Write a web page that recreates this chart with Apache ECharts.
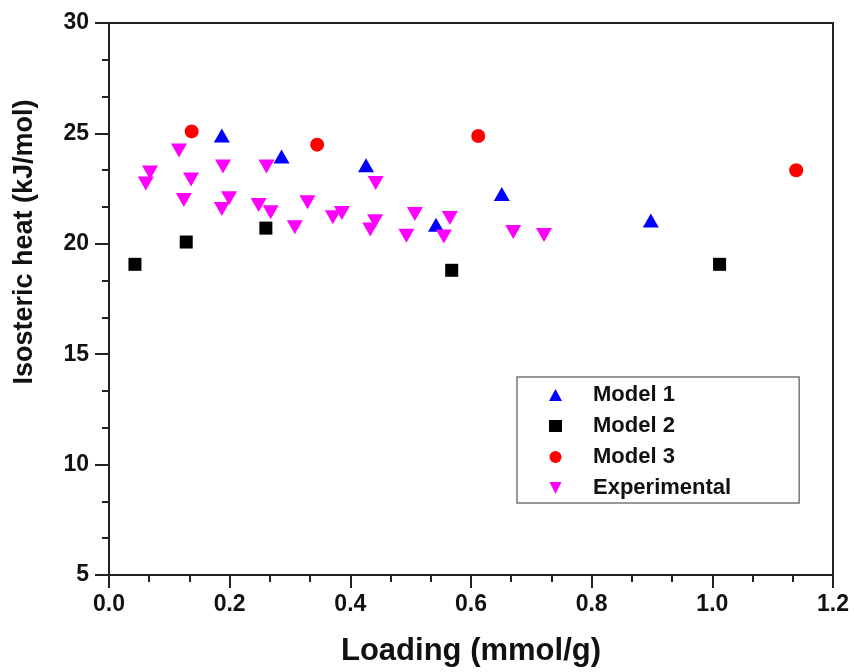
<!DOCTYPE html>
<html>
<head>
<meta charset="utf-8">
<script src="https://cdn.jsdelivr.net/npm/echarts@6/dist/echarts.min.js"></script>
<style>
html,body{margin:0;padding:0;background:#fff;}
#chart{width:854px;height:672px;}
</style>
</head>
<body>
<div id="chart"></div>
<script>
// ---- data ----
const seriesNames = ['Model 1', 'Model 2', 'Model 3', 'Experimental'];
const model1X = [0.187, 0.286, 0.426, 0.542, 0.651, 0.898];
const model1Y = [24.91, 23.95, 23.56, 20.86, 22.25, 21.05];
const model2X = [0.043, 0.128, 0.260, 0.568, 1.012];
const model2Y = [19.07, 20.08, 20.71, 18.80, 19.07];
const model3X = [0.137, 0.345, 0.612, 1.139];
const model3Y = [25.09, 24.49, 24.88, 23.33];
const expX = [0.061, 0.068, 0.116, 0.124, 0.136, 0.187, 0.189, 0.199, 0.248, 0.261, 0.268, 0.308, 0.329, 0.371, 0.386, 0.433, 0.441, 0.442, 0.493, 0.507, 0.555, 0.565, 0.670, 0.721];
const expY = [22.73, 23.23, 24.23, 21.98, 22.91, 21.58, 23.50, 22.06, 21.76, 23.50, 21.43, 20.75, 21.88, 21.20, 21.40, 20.65, 21.02, 22.75, 20.37, 21.35, 20.33, 21.17, 20.53, 20.40];
const xTitle = 'Loading (mmol/g)';
const yTitle = 'Isosteric heat (kJ/mol)';

function pairs(xs, ys) { return xs.map((x, i) => [x, ys[i]]); }

const FONT = "'Liberation Sans', Arial, sans-serif";
const AX = '#222';
const INV_TRI = 'path://M0,0 L10,0 L5,10 Z';

const chart = echarts.init(document.getElementById('chart'), null, {renderer: 'canvas'});
chart.setOption({
  animation: false,
  backgroundColor: '#fff',
  grid: {left: 109, right: 21, top: 23, bottom: 94, show: true, borderColor: AX, borderWidth: 2, backgroundColor: 'transparent'},
  xAxis: {
    type: 'value', min: 0, max: 1.2, interval: 0.2,
    name: xTitle, nameLocation: 'middle', nameGap: 61,
    nameTextStyle: {fontFamily: FONT, fontWeight: 'bold', fontSize: 31, color: '#111'},
    axisLine: {show: true, onZero: false, lineStyle: {color: AX, width: 2}},
    axisTick: {show: true, inside: false, length: 13, lineStyle: {color: AX, width: 2}},
    minorTick: {show: true, splitNumber: 3, length: 7, lineStyle: {color: AX, width: 2}},
    splitLine: {show: false},
    axisLabel: {fontFamily: FONT, fontWeight: 'bold', fontSize: 23, color: '#111', margin: 18,
      formatter: v => v.toFixed(1)}
  },
  yAxis: {
    type: 'value', min: 5, max: 30, interval: 5,
    axisLine: {show: true, onZero: false, lineStyle: {color: AX, width: 2}},
    axisTick: {show: true, inside: false, length: 14, lineStyle: {color: AX, width: 2}},
    minorTick: {show: true, splitNumber: 3, length: 7, lineStyle: {color: AX, width: 2}},
    splitLine: {show: false},
    axisLabel: {fontFamily: FONT, fontWeight: 'bold', fontSize: 23, color: '#111', margin: 20}
  },
  legend: {
    orient: 'vertical', left: 517, top: 377,
    padding: [7, 68, 4, 32],
    itemWidth: 13, itemHeight: 12, itemGap: 9,
    borderColor: '#777', borderWidth: 1.5,
    textStyle: {fontFamily: FONT, fontWeight: 'bold', fontSize: 22, color: '#111', padding: [0, 0, 0, 26]},
    data: [
      {name: seriesNames[0], icon: 'triangle'},
      {name: seriesNames[1], icon: 'rect'},
      {name: seriesNames[2], icon: 'circle'},
      {name: seriesNames[3], icon: INV_TRI}
    ]
  },
  graphic: [{
    type: 'text', x: 25, y: 242, rotation: Math.PI / 2,
    style: {text: yTitle, font: "bold 27px 'Liberation Sans', Arial, sans-serif", fill: '#111', textAlign: 'center', textVerticalAlign: 'middle'}
  }],
  series: [
    {name: seriesNames[0], type: 'scatter', symbol: 'triangle', symbolSize: [16, 14],
     itemStyle: {color: '#0000ff', opacity: 1}, data: pairs(model1X, model1Y)},
    {name: seriesNames[1], type: 'scatter', symbol: 'rect', symbolSize: 13,
     itemStyle: {color: '#000000', opacity: 1}, data: pairs(model2X, model2Y)},
    {name: seriesNames[2], type: 'scatter', symbol: 'circle', symbolSize: 14,
     itemStyle: {color: '#ff0000', opacity: 1}, data: pairs(model3X, model3Y)},
    {name: seriesNames[3], type: 'scatter', symbol: 'triangle', symbolRotate: 180, symbolSize: [16, 14],
     itemStyle: {color: '#ff00ff', opacity: 1}, data: pairs(expX, expY)}
  ]
});
</script>
</body>
</html>
